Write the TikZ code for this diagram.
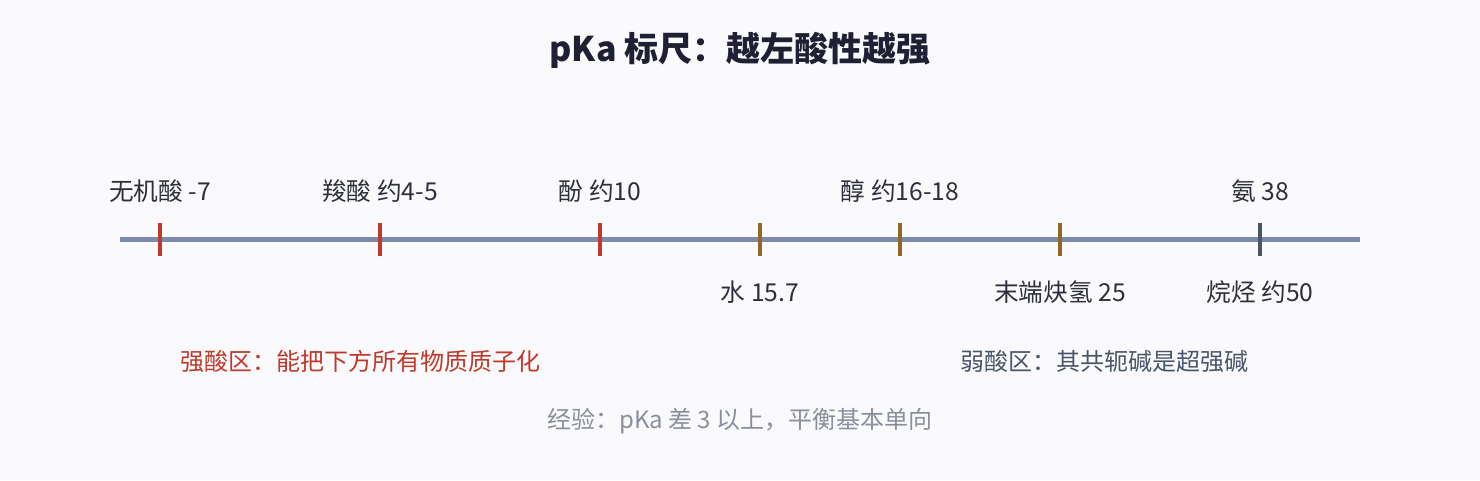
\documentclass[tikz,border=0pt]{standalone}
\usepackage{fontspec}
\setmainfont{Noto Sans CJK SC}
\definecolor{bg}{HTML}{FAFAFC}
\definecolor{axis}{HTML}{7D8BAA}
\definecolor{strong}{HTML}{C0392B}
\definecolor{mid}{HTML}{8E6A26}
\definecolor{weak}{HTML}{4A5568}
\definecolor{ink}{HTML}{2D2F3A}
\definecolor{titleink}{HTML}{1F2033}
\definecolor{note}{HTML}{8A8F9C}
\tikzset{
  lbl/.style={font=\fontsize{18.5}{22}\selectfont, text=ink, inner sep=0pt, anchor=center},
  tick/.style={line width=2.4pt},
  zone/.style={font=\fontsize{18}{22}\selectfont, inner sep=0pt, anchor=center},
}
\begin{document}
\begin{tikzpicture}[x=0.75pt,y=-0.75pt]
\fill[bg] (0,0) rectangle (1480,480);
\useasboundingbox (0,0) rectangle (1480,480);
\node[font=\fontsize{25.5}{30}\selectfont\bfseries, text=titleink, inner sep=0pt] (title) at (740,50) {pKa 标尺：越左酸性越强};
\coordinate (a0) at (120,239);
\coordinate (a1) at (1360,239);
\draw[axis, line width=3.75pt] (a0) -- (a1);
% ticks
\foreach \n/\x/\c in {t1/160/strong, t2/380/strong, t3/600/strong, t4/760/mid, t5/900/mid, t6/1060/mid, t7/1260/weak}{
  \coordinate (\n top) at (\x,223);
  \coordinate (\n bot) at (\x,256);
  \draw[tick, \c] (\n top) -- (\n bot);
}
\node[lbl] (l1) at (160,191) {无机酸 -7};
\node[lbl] (l2) at (380,191) {羧酸 约4-5};
\node[lbl] (l3) at (600,191) {酚 约10};
\node[lbl] (l5) at (900,191) {醇 约16-18};
\node[lbl] (l7) at (1260,191) {氨 38};
\node[lbl] (l4) at (760,292) {水 15.7};
\node[lbl] (l6) at (1060,292) {末端炔氢 25};
\node[lbl] (l8) at (1260,292) {烷烃 约50};
\node[zone, text=strong] (z1) at (360,361) {强酸区：能把下方所有物质质子化};
\node[zone, text=weak] (z2) at (1104,361) {弱酸区：其共轭碱是超强碱};
\node[zone, text=note] (n1) at (740,421) {经验：pKa 差 3 以上，平衡基本单向};
\end{tikzpicture}
\end{document}
